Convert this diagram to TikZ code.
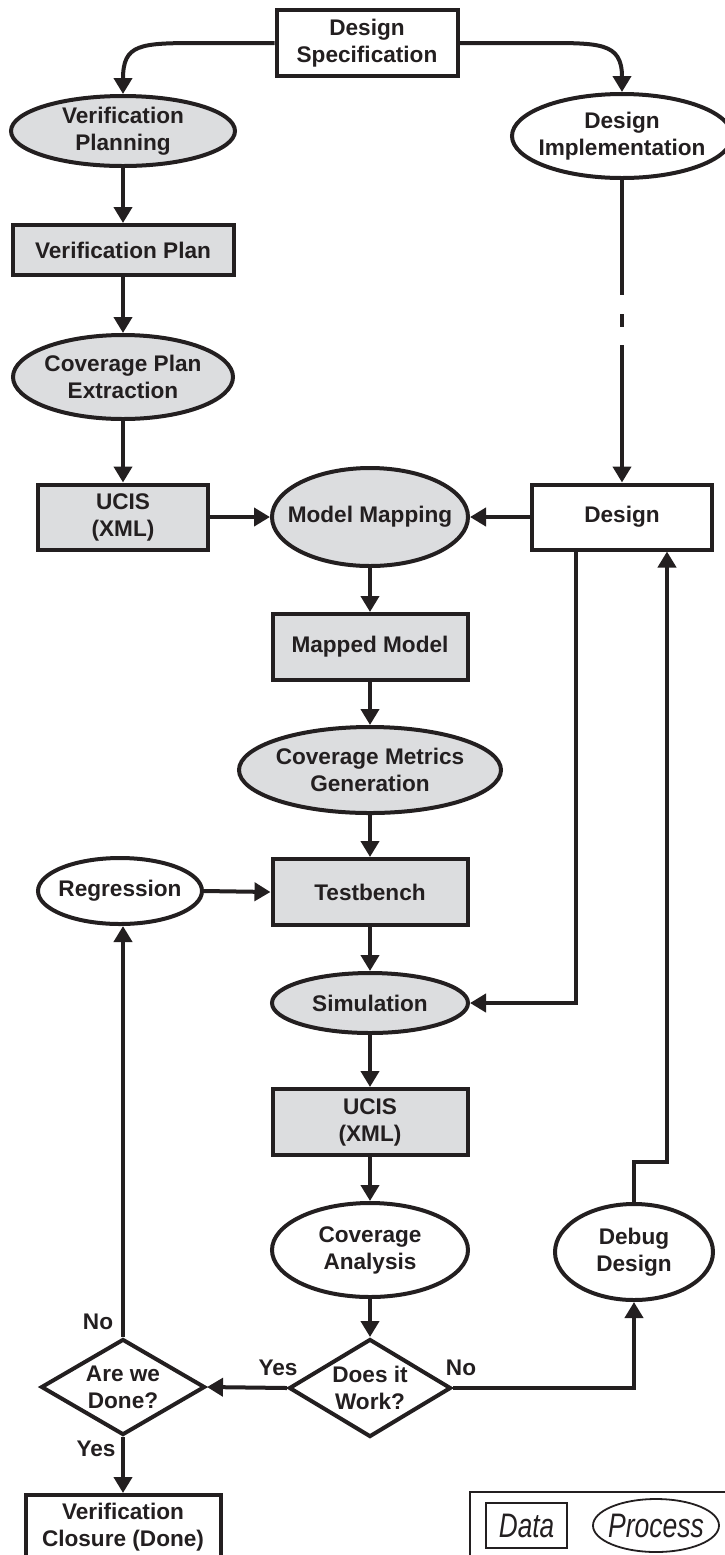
\documentclass[tikz,border=0pt]{standalone}
\usepackage{fontspec}
\setmainfont{Liberation Sans}
\usepackage{graphicx}
\usetikzlibrary{shapes.geometric,arrows.meta,calc}
\definecolor{ink}{RGB}{35,31,32}
\definecolor{boxgray}{RGB}{220,221,223}
\newcommand{\zl}[1]{\makebox[0pt]{#1}}
\newcommand{\legtext}[2]{\scalebox{#1}[1]{\fontsize{17}{17}\selectfont\mdseries\itshape #2}}
\begin{document}
\begin{tikzpicture}[x=0.5pt,y=-0.5pt,
  every node/.style={font=\fontsize{11.3}{13.5}\selectfont\bfseries, text=ink, align=center, inner sep=0pt},
  base/.style={draw=ink, line width=2pt},
  databox/.style={base, rectangle, fill=boxgray},
  datawhite/.style={base, rectangle, fill=white},
  proc/.style={base, ellipse, fill=boxgray},
  procwhite/.style={base, ellipse, fill=white},
  decision/.style={base, diamond, fill=white, shape aspect=1.7},
  conn/.style={draw=ink, line width=2pt, -{Triangle[length=8pt,width=9pt]}},
  legend/.style={draw=ink, line width=0.9pt},
]
\useasboundingbox (0,0) rectangle (724,1555);

% nodes
\node[datawhite, minimum width=90.5pt, minimum height=33pt] (ds) at (367,43) {Design\\Specification};
\node[proc, minimum width=112pt, minimum height=35pt] (vp) at (123,131) {\zl{Verification}\\\zl{Planning}};
\node[procwhite, minimum width=110pt, minimum height=42pt] (di) at (622,136) {\zl{Design}\\\zl{Implementation}};
\node[databox, minimum width=110.5pt, minimum height=25pt] (vplan) at (123,250) {Verification Plan};
\node[proc, minimum width=110pt, minimum height=42pt] (cpe) at (123,377) {\zl{Coverage Plan}\\\zl{Extraction}};
\node[databox, minimum width=85pt, minimum height=32.5pt] (ucis1) at (123,517) {UCIS\\(XML)};
\node[proc, minimum width=98pt, minimum height=49pt] (mm) at (370,517) {\zl{Model Mapping}};
\node[datawhite, minimum width=90pt, minimum height=32.5pt] (design) at (622,517) {Design};
\node[databox, minimum width=97.5pt, minimum height=33pt] (mmod) at (370,647) {Mapped Model};
\node[proc, minimum width=131pt, minimum height=43pt] (cmg) at (370,770) {\zl{Coverage Metrics}\\\zl{Generation}};
\node[databox, minimum width=97.5pt, minimum height=33pt] (tb) at (370,892) {Testbench};
\node[procwhite, minimum width=82pt, minimum height=33pt] (reg) at (120,891) {\zl{Regression}};
\node[proc, minimum width=98pt, minimum height=30pt] (sim) at (370,1003) {\zl{Simulation}};
\node[databox, minimum width=97.5pt, minimum height=33pt] (ucis2) at (370,1122) {UCIS\\(XML)};
\node[procwhite, minimum width=98pt, minimum height=47pt] (ca) at (370,1250) {\zl{Coverage}\\\zl{Analysis}};
\node[procwhite, minimum width=79pt, minimum height=48pt] (dd) at (634,1252) {\zl{Debug}\\\zl{Design}};
\node[decision, minimum width=81pt, minimum height=49pt] (diw) at (370,1388) {Does it\\Work?};
\node[decision, minimum width=82pt, minimum height=48pt] (awd) at (123,1387) {Are we\\Done?};
\node[datawhite, minimum width=97.5pt, minimum height=32pt] (vc) at (123,1527) {Verification\\Closure (Done)};

% labels
\node (yes1) at (278,1368) {Yes};
\node (no1) at (461,1368) {No};
\node (no2) at (98,1322) {No};
\node (yes2) at (96,1449) {Yes};

% connectors
\draw[conn] (ds.west) -- ++(-75,0) .. controls +(-60,0) and +(0,-50) .. (vp.north);
\draw[conn] (ds.east) -- ++(80,0) .. controls +(60,0) and +(0,-50) .. (di.north);
\draw[conn] (vp.south) -- (vplan.north);
\draw[conn] (vplan.south) -- (cpe.north);
\draw[conn] (cpe.south) -- (ucis1.north);
\draw[conn] (ucis1.east) -- (mm.west);
\draw[conn, dash pattern=on 57.5pt off 9.5pt on 6.5pt off 9pt on 200pt] (di.south) -- (design.north);
\draw[conn] (design.west) -- (mm.east);
\draw[conn] (mm.south) -- (mmod.north);
\draw[conn] (mmod.south) -- (cmg.north);
\draw[conn] (cmg.south) -- (tb.north);
\draw[conn] (reg.east) -- (tb.west);
\draw[conn] (tb.south) -- (sim.north);
\draw[conn] ($(design.south)+(-46,0)$) |- (sim.east);
\draw[conn] (sim.south) -- (ucis2.north);
\draw[conn] (ucis2.south) -- (ca.north);
\draw[conn] (ca.south) -- (diw.north);
\draw[conn] (diw.west) -- (awd.east);
\draw[conn] (diw.east) -| (dd.south);
\draw[conn] (dd.north) -- ++(0,-40) -| ($(design.south)+(45,0)$);
\draw[conn] (awd.north) -- (awd.north |- reg.south);
\draw[conn] (awd.south) -- (vc.north);

% legend
\draw[legend] (470,1492) rectangle (745,1580);
\node[legend, rectangle, minimum width=40.5pt, minimum height=22.5pt] (ldata) at (526.5,1525.5) {\legtext{0.77}{Data}};
\node[legend, ellipse, minimum width=63pt, minimum height=26.5pt] (lproc) at (656,1525.5) {\zl{\legtext{0.78}{Process}}};
\end{tikzpicture}
\end{document}
